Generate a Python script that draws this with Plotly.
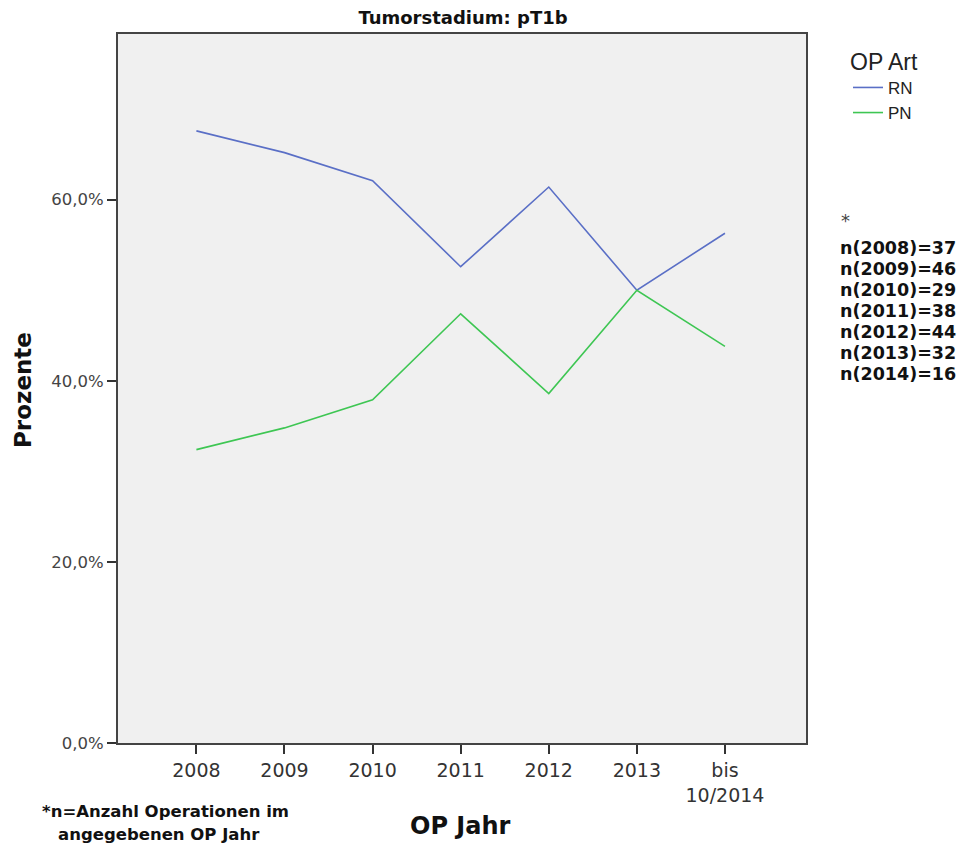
import plotly.graph_objects as go

# data (percent of operations per year)
years = ["2008", "2009", "2010", "2011", "2012", "2013", "bis<br>10/2014"]
rn_pct = [67.6, 65.2, 62.1, 52.6, 61.4, 50.0, 56.3]
pn_pct = [32.4, 34.8, 37.9, 47.4, 38.6, 50.0, 43.8]
n_labels = ["2008", "2009", "2010", "2011", "2012", "2013", "2014"]
n_counts = [37, 46, 29, 38, 44, 32, 16]
y_ticks = [0, 20, 40, 60]

fig = go.Figure()
fig.add_trace(go.Scatter(x=years, y=rn_pct, mode="lines", name="RN",
                         line=dict(color="#5a6fc6", width=1.6)))
fig.add_trace(go.Scatter(x=years, y=pn_pct, mode="lines", name="PN",
                         line=dict(color="#3ec653", width=1.6)))

# page body adds an 8px margin, so the figure is 8px smaller than the window
W, H = 964, 837
L, R, T, B = 110, 166, 26, 102
pw, ph = W - L - R, H - T - B


def px(x):  # screen x -> paper x
    return (x - 8 - L) / pw


def py(y):  # screen y -> paper y
    return (H - B - (y - 8)) / ph


annotations = [
    dict(text="*", x=px(839), y=py(220), xanchor="left", yanchor="middle",
         font=dict(size=18, color="#444")),
    dict(text="<b>Prozente</b>", x=px(23), y=py(390), textangle=-90,
         xanchor="center", yanchor="middle", font=dict(size=23, color="#111")),
    dict(text="<b>OP Jahr</b>", x=px(460), y=py(826), xanchor="center",
         yanchor="middle", font=dict(size=24, color="#111")),
    dict(text="<b>*n=Anzahl Operationen im</b>", x=px(165), y=py(811),
         xanchor="center", yanchor="middle", font=dict(size=16.5, color="#111")),
    dict(text="<b>angegebenen OP Jahr</b>", x=px(159), y=py(834),
         xanchor="center", yanchor="middle", font=dict(size=16.5, color="#111")),
]
for i, (lab, cnt) in enumerate(zip(n_labels, n_counts)):
    annotations.append(dict(
        text="<b>n(%s)=%d</b>" % (lab, cnt), x=px(838), y=py(248 + 21 * i),
        xanchor="left", yanchor="middle", font=dict(size=17.5, color="#111")))
for a in annotations:
    a.update(xref="paper", yref="paper", showarrow=False)

fig.update_layout(
    width=W, height=H,
    margin=dict(l=L, r=R, t=T, b=B),
    paper_bgcolor="white",
    plot_bgcolor="#f0f0f0",
    font=dict(family="DejaVu Sans", color="#222"),
    title=dict(text="<b>Tumorstadium: pT1b</b>", x=(463 - 8) / W, xanchor="center",
               y=1 - (18 - 8) / H, yanchor="middle",
               font=dict(size=18, color="#111")),
    showlegend=True,
    legend=dict(x=px(848), y=py(40), xanchor="left", yanchor="top",
                bgcolor="rgba(0,0,0,0)",
                title=dict(text="OP Art", font=dict(size=23, color="#222",
                                                     family="Liberation Sans")),
                font=dict(size=17, family="Liberation Sans", color="#222"),
                itemwidth=30),
    xaxis=dict(
        type="category", range=[-0.89, 6.92],
        showgrid=False, zeroline=False,
        showline=True, linecolor="#444", linewidth=2, mirror=True,
        ticks="outside", ticklen=9, tickwidth=2, tickcolor="#333",
        tickfont=dict(size=19, color="#333"),
    ),
    yaxis=dict(
        range=[0, 78.3], tickmode="array", tickvals=y_ticks,
        ticktext=["%s,0%%" % v for v in y_ticks],
        showgrid=False, zeroline=False,
        showline=True, linecolor="#444", linewidth=2, mirror=True,
        ticks="outside", ticklen=9, tickwidth=2, tickcolor="#333",
        tickfont=dict(size=16.5, color="#444"),
    ),
    annotations=annotations,
)

fig.write_html("out.html")
